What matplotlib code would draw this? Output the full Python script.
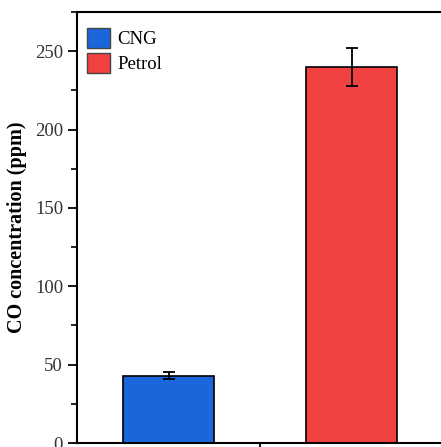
import matplotlib.pyplot as plt
from matplotlib.ticker import MultipleLocator
from matplotlib.patches import Patch

fuels = ["CNG", "Petrol"]
co_ppm = [43.0, 240.0]
co_err = [2.0, 12.0]
colors = ["#1c66dc", "#f24141"]

plt.rcParams['font.family'] = ['Liberation Serif', 'DejaVu Serif']

fig = plt.figure(figsize=(4.41, 4.47), dpi=100)
ax = fig.add_axes([77/441, 4/447, 366/441, 431/447])

x = list(range(len(fuels)))
ax.bar(x, co_ppm, width=0.5, color=colors, edgecolor="black", linewidth=1.2,
       yerr=co_err, capsize=4, error_kw=dict(elinewidth=1.3, capthick=1.3, ecolor="black"))

ax.set_xlim(-0.5, 1.5)
ax.set_ylim(0, 275)
ax.set_xticks([0.5])
ax.set_xticklabels([""])
ax.yaxis.set_major_locator(MultipleLocator(50))
ax.yaxis.set_minor_locator(MultipleLocator(25))
ax.tick_params(axis="both", which="major", direction="out", length=6.5, width=1.3,
               labelsize=13.5, labelcolor="#333333", pad=3.5)
ax.tick_params(axis="y", which="minor", direction="out", length=4, width=1.2)
for s in ax.spines.values():
    s.set_linewidth(1.5)

ax.set_ylabel("CO concentration (ppm)", fontsize=14.5, fontweight="bold", labelpad=6)

handles = [Patch(facecolor=c, edgecolor="#444444", label=f) for c, f in zip(colors, fuels)]
ax.legend(handles=handles, loc="upper left", bbox_to_anchor=(-0.012, 0.995),
          frameon=False, fontsize=13.5,
          handlelength=1.25, handleheight=1.25, handletextpad=0.4, labelspacing=0.25,
          borderaxespad=0.45, borderpad=0.3)

fig.savefig("out.png", dpi=100)
